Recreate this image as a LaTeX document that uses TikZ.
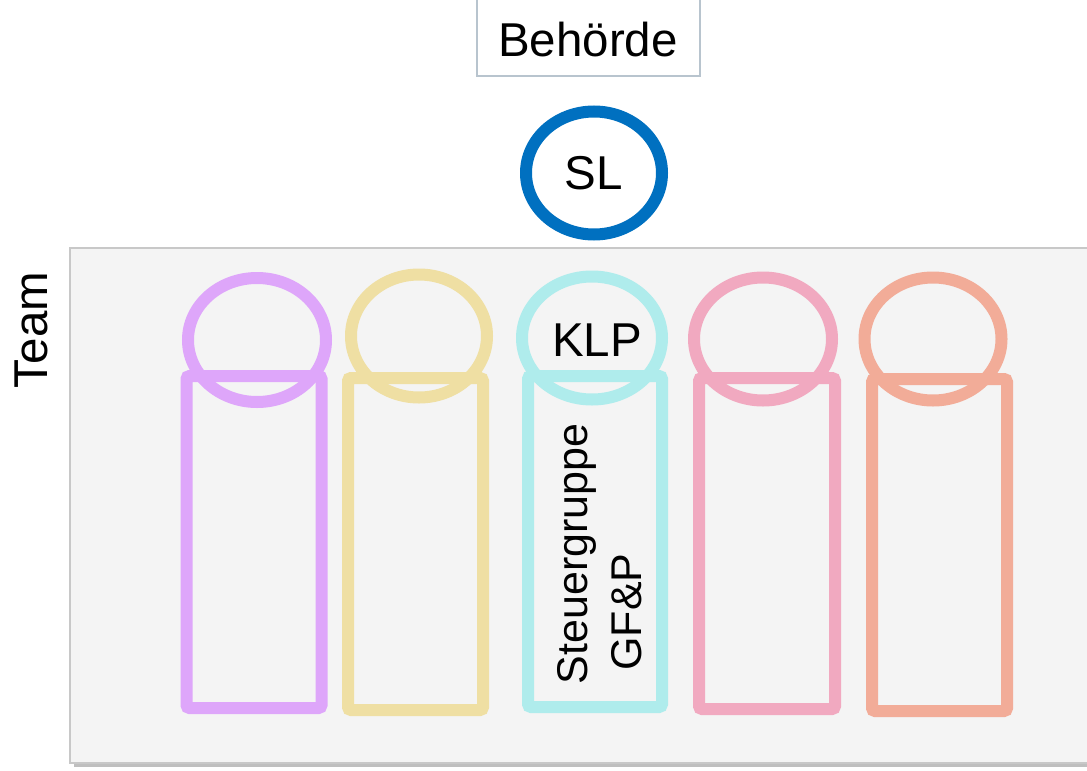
\documentclass[tikz,border=0pt]{standalone}
\usepackage{fontspec}
\setmainfont{Liberation Sans}
\usetikzlibrary{shapes.geometric}
\definecolor{slblue}{HTML}{0070C0}
\definecolor{cpurple}{HTML}{DEA6FA}
\definecolor{cyellow}{HTML}{EFDFA3}
\definecolor{ccyan}{HTML}{AFECEC}
\definecolor{cpink}{HTML}{F1A9C0}
\definecolor{csalmon}{HTML}{F2AC98}
\definecolor{teamfill}{HTML}{F4F4F4}
\definecolor{teamborder}{HTML}{C8C8C8}
\definecolor{boxborder}{HTML}{B8C4CE}
\tikzset{
  big/.style={font=\fontsize{47.5}{54}\selectfont},
  ring/.style={ellipse, draw=#1, line width=12pt, inner sep=0pt, minimum width=138pt, minimum height=124pt},
  bar/.style={rectangle, draw=#1, line width=12pt, rounded corners=3pt, inner sep=0pt, minimum width=135pt, minimum height=332pt},
}
\begin{document}
\begin{tikzpicture}[x=1pt,y=-1pt]
\useasboundingbox (0,0) rectangle (1087,771);
% team area
\fill[black!25] (74,252) rectangle (1100,767);
\node[draw=teamborder, fill=teamfill, line width=2pt, minimum width=1030pt, minimum height=515pt, inner sep=0pt] (team) at (585,505.5) {};
\node[big, rotate=90] (teamlbl) at (31,330) {Team};
% Behoerde
\node[draw=boxborder, line width=1.5pt, fill=white, minimum width=223pt, minimum height=80pt, inner sep=0pt] (beh) at (588.5,36) {};
\node[big] (behtxt) at (588,40) {Behörde};
% SL
\node[ellipse, draw=slblue, fill=white, line width=12pt, inner sep=0pt, minimum width=136pt, minimum height=123pt, big] (sl) at (594,173) {SL};
% bars
\node[bar=cpurple] (r1) at (254,542) {};
\node[bar=cyellow] (r2) at (415.5,544) {};
\node[bar=ccyan, minimum width=134pt, minimum height=331pt] (r3) at (595,541.5) {};
\node[bar=cpink, minimum width=136pt, minimum height=331pt] (r4) at (767,543.5) {};
\node[bar=csalmon] (r5) at (939.5,545) {};
% rings
\node[ring=cpurple] (c1) at (257,340) {};
\node[ring=cyellow, minimum width=136pt, minimum height=123pt] (c2) at (419,336) {};
\node[ring=ccyan, minimum width=140pt, minimum height=123pt] (c3) at (592,338) {};
\node[big] (klp) at (597,340) {KLP};
\node[ring=cpink, minimum height=123pt] (c4) at (763,339) {};
\node[ring=csalmon, minimum width=137pt, minimum height=123pt] (c5) at (933,339) {};
% rotated text
\node[rotate=90, font=\fontsize{43}{50}\selectfont] (steu) at (577,554) {Steuergruppe};
\node[rotate=90, font=\fontsize{43}{50}\selectfont] (gfp) at (627,612) {GF\&P};
\end{tikzpicture}
\end{document}
